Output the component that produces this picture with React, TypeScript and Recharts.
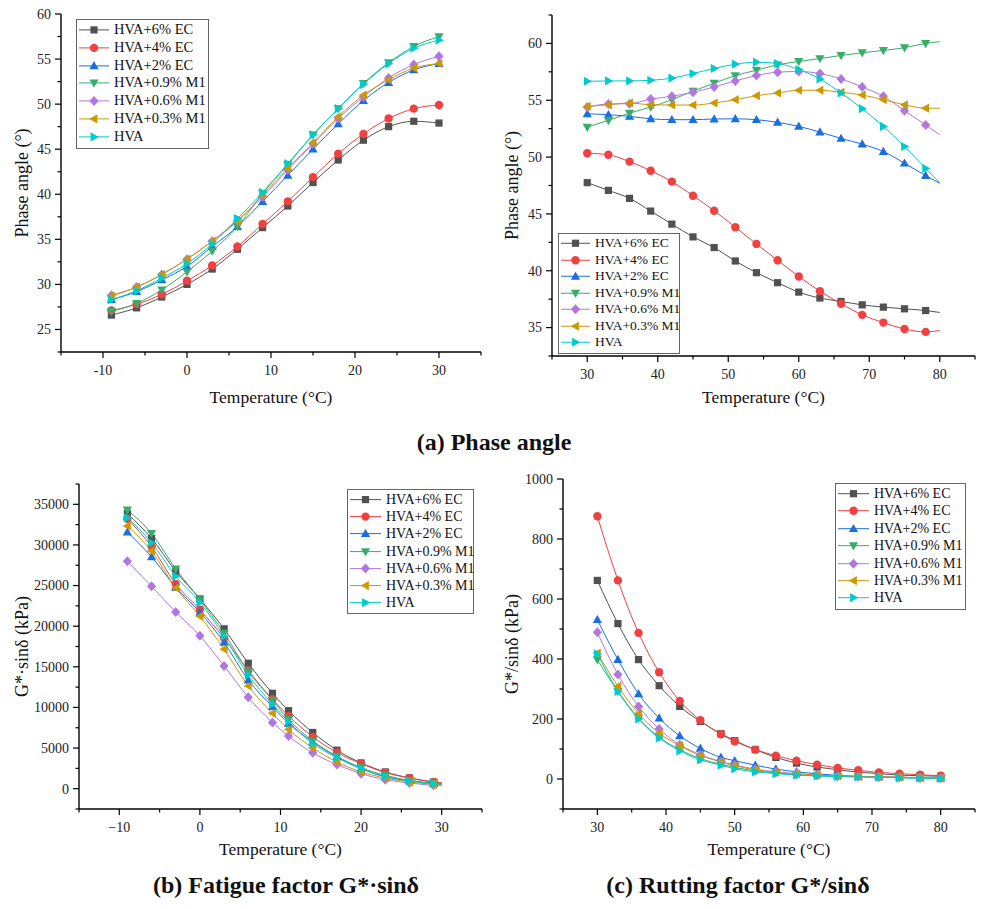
import React from "react";
import { LineChart, Line, XAxis, YAxis } from "recharts";

const seriesNames = ["HVA+6% EC", "HVA+4% EC", "HVA+2% EC", "HVA+0.9% M1", "HVA+0.6% M1", "HVA+0.3% M1", "HVA"];
const seriesColors = ["#515151", "#F14040", "#1A6FDF", "#37AD6B", "#B177DE", "#CC9900", "#00CBCC"];
const markerShapes = ["square", "circle", "up", "down", "diamond", "left", "right"];

// (a) phase angle, low temperature
const tempA1 = [-9, -6, -3, 0, 3, 6, 9, 12, 15, 18, 21, 24, 27, 30];
const phaseA1_EC6 = [26.6, 27.4, 28.6, 30.0, 31.7, 33.9, 36.3, 38.7, 41.3, 43.8, 46.0, 47.5, 48.1, 47.9];
const phaseA1_EC4 = [27.1, 27.8, 28.9, 30.4, 32.1, 34.2, 36.7, 39.2, 41.9, 44.5, 46.7, 48.4, 49.5, 49.9];
const phaseA1_EC2 = [28.3, 29.2, 30.5, 32.0, 34.2, 36.4, 39.2, 42.1, 45.0, 47.8, 50.4, 52.4, 53.8, 54.5];
const phaseA1_M09 = [27.0, 27.9, 29.4, 31.4, 33.7, 36.4, 40.1, 43.3, 46.6, 49.5, 52.3, 54.6, 56.4, 57.5];
const phaseA1_M06 = [28.8, 29.7, 31.1, 32.8, 34.8, 37.1, 39.7, 42.7, 45.6, 48.4, 50.8, 52.9, 54.4, 55.3];
const phaseA1_M03 = [28.7, 29.7, 31.1, 32.8, 34.8, 37.0, 39.9, 42.9, 45.7, 48.6, 51.0, 52.7, 54.0, 54.5];
const phaseA1_HVA = [28.3, 29.3, 30.7, 32.3, 34.5, 37.3, 40.2, 43.4, 46.6, 49.5, 52.2, 54.5, 56.2, 57.1];

// (a) phase angle, high temperature (last point has no marker)
const tempA2 = [30, 33, 36, 39, 42, 45, 48, 51, 54, 57, 60, 63, 66, 69, 72, 75, 78, 80];
const phaseA2_EC6 = [47.75, 47.07, 46.37, 45.25, 44.1, 42.98, 42.04, 40.86, 39.83, 38.95, 38.12, 37.6, 37.3, 37.0, 36.8, 36.65, 36.5, 36.33];
const phaseA2_EC4 = [50.34, 50.2, 49.6, 48.8, 47.84, 46.6, 45.28, 43.83, 42.36, 40.92, 39.5, 38.2, 37.1, 36.12, 35.44, 34.88, 34.62, 34.74];
const phaseA2_EC2 = [53.8, 53.73, 53.58, 53.37, 53.29, 53.29, 53.35, 53.37, 53.29, 53.05, 52.7, 52.2, 51.64, 51.14, 50.49, 49.46, 48.37, 47.7];
const phaseA2_M09 = [52.64, 53.23, 53.87, 54.4, 55.05, 55.8, 56.5, 57.17, 57.64, 58.12, 58.41, 58.67, 58.94, 59.18, 59.38, 59.62, 60.0, 60.15];
const phaseA2_M06 = [54.4, 54.67, 54.7, 55.1, 55.35, 55.7, 56.17, 56.7, 57.17, 57.47, 57.53, 57.35, 56.88, 56.17, 55.35, 54.08, 52.82, 51.96];
const phaseA2_M03 = [54.46, 54.6, 54.76, 54.6, 54.58, 54.58, 54.76, 55.05, 55.4, 55.64, 55.88, 55.88, 55.7, 55.46, 55.05, 54.6, 54.3, 54.3];
const phaseA2_HVA = [56.67, 56.7, 56.7, 56.76, 56.94, 57.35, 57.8, 58.17, 58.35, 58.23, 57.7, 56.88, 55.64, 54.26, 52.7, 50.93, 49.0, 47.75];

// (b) fatigue factor G*·sinδ (last point has no marker)
const tempB = [-9, -6, -3, 0, 3, 6, 9, 11, 14, 17, 20, 23, 26, 29, 30];
const fatigueEC6 = [33850, 30800, 26770, 23350, 19680, 15440, 11740, 9600, 6920, 4740, 3170, 2060, 1320, 820, 700];
const fatigueEC4 = [33230, 29800, 25200, 22030, 18530, 14540, 11000, 8940, 6380, 4450, 3090, 1980, 1320, 820, 720];
const fatigueEC2 = [31590, 28540, 24790, 21700, 18000, 13380, 10090, 8030, 5770, 3910, 2470, 1440, 950, 620, 540];
const fatigueM09 = [34300, 31420, 27050, 23270, 19150, 14410, 10910, 8520, 5890, 3990, 2590, 1650, 1030, 700, 620];
const fatigueM06 = [28000, 24910, 21740, 18820, 15110, 11240, 8150, 6470, 4410, 2970, 1850, 1110, 700, 410, 360];
const fatigueM03 = [32330, 29240, 24710, 21210, 17170, 12640, 9270, 7290, 5020, 3290, 2060, 1320, 820, 540, 470];
const fatigueHVA = [33360, 30270, 26150, 22940, 18740, 14000, 10420, 8240, 5560, 3830, 2470, 1520, 950, 620, 540];

// (c) rutting factor G*/sinδ
const tempC = [30, 33, 36, 39, 42, 45, 48, 50, 53, 56, 59, 62, 65, 68, 71, 74, 77, 80];
const ruttingEC6 = [662, 518, 398, 311, 242, 192, 151, 128, 98, 72, 53, 40, 31, 23, 18, 13, 11, 9];
const ruttingEC4 = [876, 662, 487, 356, 260, 196, 149, 126, 98, 78, 61, 48, 37, 29, 22, 18, 14, 11];
const ruttingEC2 = [531, 398, 284, 203, 144, 102, 72, 61, 46, 33, 24, 17, 12, 9, 7, 6, 4, 3];
const ruttingM09 = [398, 292, 203, 139, 98, 68, 49, 39, 27, 20, 14, 11, 9, 7, 6, 4, 3, 2];
const ruttingM06 = [489, 348, 242, 167, 114, 81, 58, 47, 33, 24, 18, 13, 10, 8, 7, 6, 4, 3];
const ruttingM03 = [420, 309, 218, 153, 111, 78, 57, 44, 31, 22, 17, 13, 10, 8, 7, 6, 4, 3];
const ruttingHVA = [417, 292, 200, 137, 94, 64, 46, 34, 24, 18, 13, 10, 8, 7, 6, 4, 3, 2];

// axis ticks
const ticksX1 = [-15, -10, -5, 0, 5, 10, 15, 20, 25, 30, 35];
const labelsX1 = [-10, 0, 10, 20, 30];
const ticksX2 = [25, 30, 35, 40, 45, 50, 55, 60, 65, 70, 75, 80, 85];
const labelsX2 = [30, 40, 50, 60, 70, 80];
const ticksYA1 = [22.5, 25, 27.5, 30, 32.5, 35, 37.5, 40, 42.5, 45, 47.5, 50, 52.5, 55, 57.5, 60];
const labelsYA1 = [25, 30, 35, 40, 45, 50, 55, 60];
const ticksYA2 = [32.5, 35, 37.5, 40, 42.5, 45, 47.5, 50, 52.5, 55, 57.5, 60, 62.5];
const labelsYA2 = [35, 40, 45, 50, 55, 60];
const ticksYB = [-2500, 0, 2500, 5000, 7500, 10000, 12500, 15000, 17500, 20000, 22500, 25000, 27500, 30000, 32500, 35000, 37500];
const labelsYB = [0, 5000, 10000, 15000, 20000, 25000, 30000, 35000];
const ticksYC = [-100, 0, 100, 200, 300, 400, 500, 600, 700, 800, 900, 1000];
const labelsYC = [0, 200, 400, 600, 800, 1000];

const FONT = '"Liberation Serif", "Times New Roman", serif';

const toRows = (xs: number[], cols: number[][]) =>
  xs.map((x, i) => {
    const r: any = { x };
    cols.forEach((c, j) => (r["s" + j] = c[i]));
    return r;
  });

function Marker({ shape, cx, cy, color }: { shape: string; cx: number; cy: number; color: string }) {
  const p = (pts: number[][]) => pts.map(([a, b]) => `${cx + a},${cy + b}`).join(" ");
  switch (shape) {
    case "square":
      return <rect x={cx - 3.6} y={cy - 3.6} width={7.2} height={7.2} fill={color} />;
    case "circle":
      return <circle cx={cx} cy={cy} r={4.2} fill={color} />;
    case "up":
      return <polygon points={p([[0, -4.8], [4.6, 3.4], [-4.6, 3.4]])} fill={color} />;
    case "down":
      return <polygon points={p([[0, 4.8], [4.6, -3.4], [-4.6, -3.4]])} fill={color} />;
    case "diamond":
      return <polygon points={p([[0, -5], [4.6, 0], [0, 5], [-4.6, 0]])} fill={color} />;
    case "left":
      return <polygon points={p([[-4.8, 0], [3.4, -4.6], [3.4, 4.6]])} fill={color} />;
    default:
      return <polygon points={p([[4.8, 0], [-3.4, -4.6], [-3.4, 4.6]])} fill={color} />;
  }
}

const near = (arr: number[], v: number) => arr.some((a) => Math.abs(a - v) < 1e-6);

const XTick = (props: any) => {
  const { x, y, payload, labels, minus } = props;
  const major = near(labels, payload.value);
  const v = payload.value;
  const txt = v < 0 ? (minus ? "\u2212" : "-") + Math.abs(v) : String(v);
  return (
    <g>
      <line x1={x} y1={y} x2={x} y2={y + (major ? 6 : 3.5)} stroke="#000" strokeWidth={1.2} />
      {major && (
        <text x={x} y={y + 23} textAnchor="middle" fontSize={14} fill="#222" fontFamily={FONT}>
          {txt}
        </text>
      )}
    </g>
  );
};

const YTick = (props: any) => {
  const { x, y, payload, labels } = props;
  const major = near(labels, payload.value);
  return (
    <g>
      <line x1={x} y1={y} x2={x - (major ? 6 : 3.5)} y2={y} stroke="#000" strokeWidth={1.2} />
      {major && (
        <text x={x - 10} y={y} dy="0.35em" textAnchor="end" fontSize={14} fill="#222" fontFamily={FONT}>
          {payload.value}
        </text>
      )}
    </g>
  );
};

function BoxLegend({ left, top, width, rowH, fontSize, sampleW }: any) {
  return (
    <div
      style={{
        position: "absolute",
        left,
        top,
        width,
        border: "1px solid #666",
        background: "#fff",
        padding: "1px 0 2px 2px",
        boxSizing: "border-box",
        fontFamily: FONT,
      }}
    >
      {seriesNames.map((n, j) => (
        <div key={n} style={{ display: "flex", alignItems: "center", height: rowH }}>
          <svg width={sampleW} height={rowH} style={{ flex: "none" }}>
            <line x1={0} y1={rowH / 2} x2={sampleW} y2={rowH / 2} stroke={seriesColors[j]} strokeWidth={1} />
            <Marker shape={markerShapes[j]} cx={sampleW / 2} cy={rowH / 2} color={seriesColors[j]} />
          </svg>
          <span style={{ marginLeft: 5, fontSize, lineHeight: rowH + "px", whiteSpace: "nowrap", color: "#111" }}>{n}</span>
        </div>
      ))}
    </div>
  );
}

function Panel(props: any) {
  const {
    left, top, width, height, margin, yWidth, xHeight, rows, xDomain, xTicks, xLabels,
    yDomain, yTicks, yLabels, yTitle, xTitleOffset, markerCount, legend, minus,
  } = props;
  return (
    <div style={{ position: "absolute", left, top, width, height }}>
      <LineChart width={width} height={height} data={rows} margin={margin}>
        <XAxis
          dataKey="x"
          type="number"
          domain={xDomain}
          ticks={xTicks}
          interval={0}
          allowDataOverflow
          height={xHeight}
          tickSize={0}
          tickMargin={0}
          tickLine={false}
          axisLine={{ stroke: "#000", strokeWidth: 1.4 }}
          tick={<XTick labels={xLabels} minus={minus} />}
          label={{
            value: "Temperature (°C)",
            position: "insideBottom",
            offset: xTitleOffset,
            style: { fontSize: 17.5, fill: "#111", fontFamily: FONT },
          }}
        />
        <YAxis
          type="number"
          domain={yDomain}
          ticks={yTicks}
          interval={0}
          allowDataOverflow
          width={yWidth}
          tickSize={0}
          tickMargin={0}
          tickLine={false}
          axisLine={{ stroke: "#000", strokeWidth: 1.4 }}
          tick={<YTick labels={yLabels} />}
          label={{
            value: yTitle,
            angle: -90,
            position: "insideLeft",
            offset: 22,
            style: { textAnchor: "middle", fontSize: 18, fill: "#111", fontFamily: FONT },
          }}
        />
        {seriesNames.map((n, j) => (
          <Line
            key={n}
            name={n}
            dataKey={"s" + j}
            type="monotone"
            stroke={seriesColors[j]}
            strokeWidth={1}
            isAnimationActive={false}
            activeDot={false}
            dot={(d: any) =>
              d.index < markerCount ? (
                <Marker key={d.index} shape={markerShapes[j]} cx={d.cx} cy={d.cy} color={seriesColors[j]} />
              ) : (
                <g key={d.index} />
              )
            }
          />
        ))}
      </LineChart>
      <BoxLegend {...legend} />
    </div>
  );
}

const titleStyle: React.CSSProperties = {
  position: "absolute",
  fontFamily: FONT,
  fontWeight: "bold",
  fontSize: 24,
  color: "#111",
  whiteSpace: "nowrap",
  transform: "translateX(-50%)",
  lineHeight: "28px",
};

export default function App() {
  const rowsA1 = toRows(tempA1, [phaseA1_EC6, phaseA1_EC4, phaseA1_EC2, phaseA1_M09, phaseA1_M06, phaseA1_M03, phaseA1_HVA]);
  const rowsA2 = toRows(tempA2, [phaseA2_EC6, phaseA2_EC4, phaseA2_EC2, phaseA2_M09, phaseA2_M06, phaseA2_M03, phaseA2_HVA]);
  const rowsB = toRows(tempB, [fatigueEC6, fatigueEC4, fatigueEC2, fatigueM09, fatigueM06, fatigueM03, fatigueHVA]);
  const rowsC = toRows(tempC, [ruttingEC6, ruttingEC4, ruttingEC2, ruttingM09, ruttingM06, ruttingM03, ruttingHVA]);

  return (
    <div style={{ position: "absolute", left: 0, top: 0, width: 982, height: 909, background: "#fff", overflow: "hidden" }}>
      <Panel
        left={0} top={0} width={490} height={420}
        margin={{ top: 14, right: 9, left: 0, bottom: 0 }} yWidth={61} xHeight={68}
        rows={rowsA1} xDomain={[-15, 35]} xTicks={ticksX1} xLabels={labelsX1}
        yDomain={[22.5, 60]} yTicks={ticksYA1} yLabels={labelsYA1}
        yTitle="Phase angle (°)" xTitleOffset={17} markerCount={tempA1.length}
        legend={{ left: 76, top: 19, width: 133, rowH: 17.8, fontSize: 14.5, sampleW: 30 }}
      />
      <Panel
        left={490} top={0} width={492} height={420}
        margin={{ top: 15, right: 7, left: 0, bottom: 0 }} yWidth={62} xHeight={64}
        rows={rowsA2} xDomain={[25, 85]} xTicks={ticksX2} xLabels={labelsX2}
        yDomain={[32.5, 62.5]} yTicks={ticksYA2} yLabels={labelsYA2}
        yTitle="Phase angle (°)" xTitleOffset={17} markerCount={tempA2.length - 1}
        legend={{ left: 68, top: 233, width: 122, rowH: 16.5, fontSize: 13.5, sampleW: 29 }}
      />
      <Panel
        left={0} top={420} width={490} height={440}
        margin={{ top: 64, right: 8, left: 0, bottom: 0 }} yWidth={79} xHeight={51}
        rows={rowsB} xDomain={[-15, 35]} xTicks={ticksX1} xLabels={labelsX1} minus
        yDomain={[-2500, 37500]} yTicks={ticksYB} yLabels={labelsYB}
        yTitle="G*·sinδ (kPa)" xTitleOffset={5} markerCount={tempB.length - 1}
        legend={{ left: 347, top: 69, width: 127, rowH: 17.2, fontSize: 14, sampleW: 31 }}
      />
      <Panel
        left={490} top={420} width={492} height={440}
        margin={{ top: 59, right: 7, left: 0, bottom: 0 }} yWidth={73} xHeight={51}
        rows={rowsC} xDomain={[25, 85]} xTicks={ticksX2} xLabels={labelsX2}
        yDomain={[-100, 1000]} yTicks={ticksYC} yLabels={labelsYC}
        yTitle="G*/sinδ (kPa)" xTitleOffset={5} markerCount={tempC.length}
        legend={{ left: 345, top: 63, width: 131, rowH: 17.4, fontSize: 14, sampleW: 31 }}
      />
      <div style={{ ...titleStyle, left: 494, top: 428 }}>(a) Phase angle</div>
      <div style={{ ...titleStyle, left: 286, top: 871 }}>(b) Fatigue factor G*·sinδ</div>
      <div style={{ ...titleStyle, left: 738, top: 871 }}>(c) Rutting factor G*/sinδ</div>
    </div>
  );
}
